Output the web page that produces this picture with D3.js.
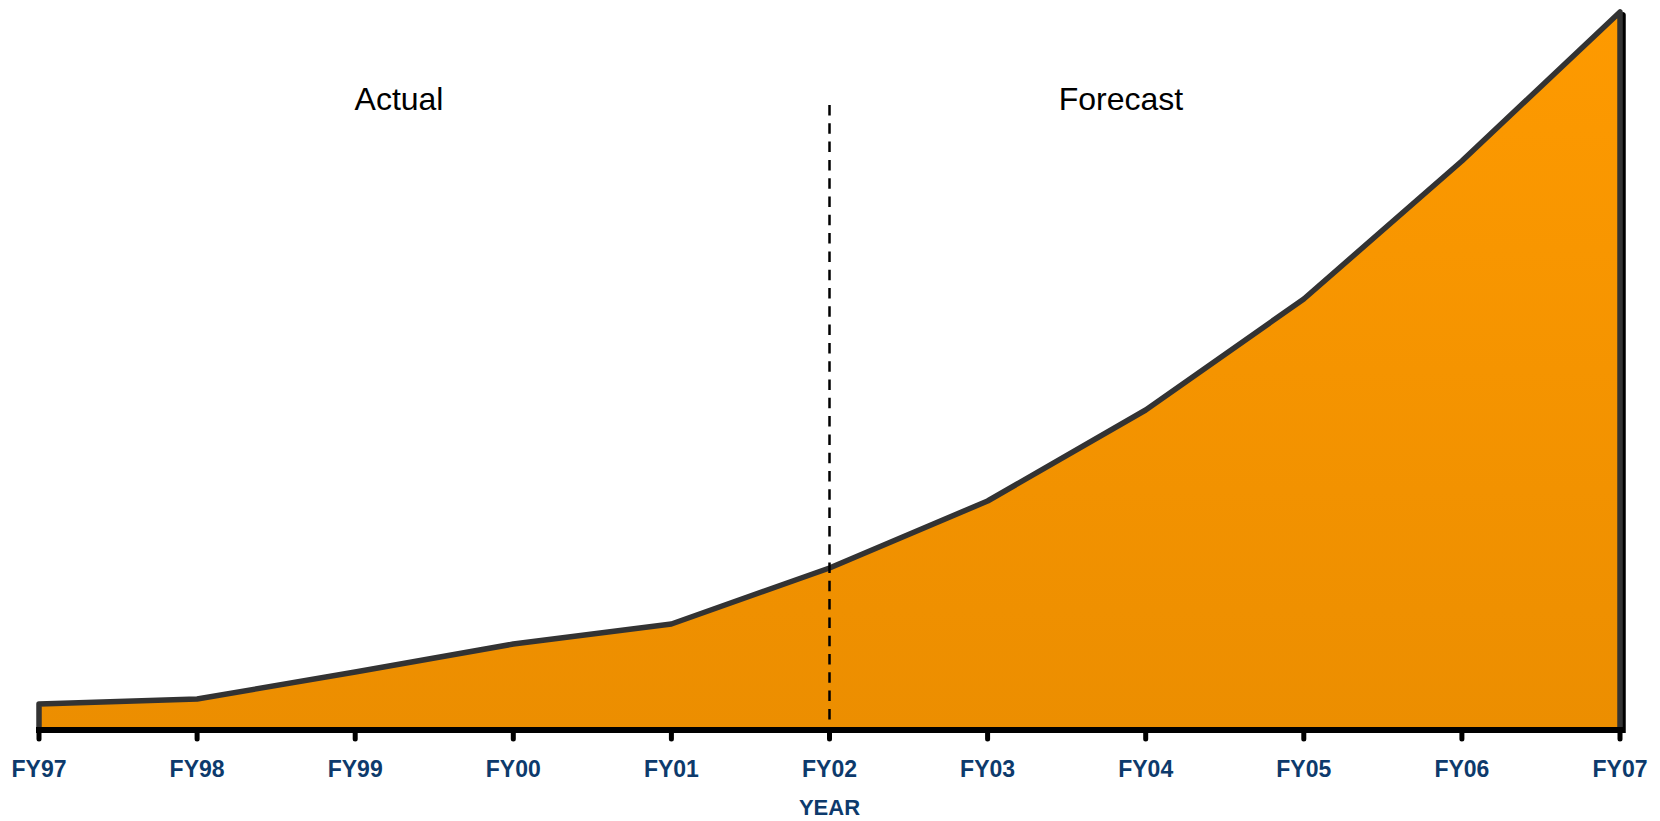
<!DOCTYPE html>
<html>
<head>
<meta charset="utf-8">
<script src="https://cdn.jsdelivr.net/npm/d3@7"></script>
<style>
  html, body { margin: 0; padding: 0; background: #ffffff; }
  svg { display: block; }
</style>
</head>
<body>
<svg id="chart" width="1660" height="821"></svg>
<script>
// Fiscal years shown on the x axis
const years = ["FY97", "FY98", "FY99", "FY00", "FY01", "FY02", "FY03", "FY04", "FY05", "FY06", "FY07"];
// Yearly values (actual through FY02, forecast afterwards)
const values = [2.6, 3.1, 5.8, 8.6, 10.6, 16.2, 22.9, 32.0, 43.1, 56.9, 71.8];
// Year where actuals end and the forecast begins
const splitYear = "FY02";
const sectionLabels = ["Actual", "Forecast"];
const axisTitle = "YEAR";

const svg = d3.select("#chart");

const x = d3.scalePoint().domain(years).range([39, 1620]);
const y = d3.scaleLinear().domain([0, 72]).range([730, 10]);

const defs = svg.append("defs");
const grad = defs.append("linearGradient")
  .attr("id", "fillGrad")
  .attr("gradientUnits", "userSpaceOnUse")
  .attr("x1", 0).attr("y1", y(72)).attr("x2", 0).attr("y2", y(0));
grad.append("stop").attr("offset", "0%").attr("stop-color", "#fe9a00");
grad.append("stop").attr("offset", "100%").attr("stop-color", "#ec8e00");

const pts = years.map((d, i) => [x(d), y(values[i])]);

const area = d3.area()
  .x((d, i) => x(years[i]))
  .y0(y(0))
  .y1(d => y(d));

// Closed outline: up the left edge, along the series, down the right edge
const outline = d3.line()([[x(years[0]), y(0)], ...pts, [x(years[years.length - 1]), y(0)]]);

// Drop shadow of the outline
svg.append("path")
  .attr("d", outline)
  .attr("transform", "translate(3,3)")
  .attr("fill", "none")
  .attr("stroke", "#000")
  .attr("stroke-width", 5.5)
  .attr("stroke-linejoin", "round");

svg.append("path")
  .attr("d", area(values))
  .attr("fill", "url(#fillGrad)");

svg.append("path")
  .attr("d", outline)
  .attr("fill", "none")
  .attr("stroke", "#333333")
  .attr("stroke-width", 5.5)
  .attr("stroke-linejoin", "round");

// Dashed divider between actual and forecast
svg.append("line")
  .attr("x1", x(splitYear)).attr("x2", x(splitYear))
  .attr("y1", 105).attr("y2", y(0))
  .attr("stroke", "#000")
  .attr("stroke-width", 2.5)
  .attr("stroke-dasharray", "10.5,7.8");

// X axis
const axisG = svg.append("g").attr("transform", `translate(0,${y(0)})`);
axisG.append("line")
  .attr("x1", x(years[0]) - 3).attr("x2", x(years[years.length - 1]) + 3)
  .attr("y1", 0).attr("y2", 0)
  .attr("stroke", "#000").attr("stroke-width", 6);
axisG.selectAll(".tick")
  .data(years)
  .join("line")
  .attr("class", "tick")
  .attr("x1", d => x(d)).attr("x2", d => x(d))
  .attr("y1", 0).attr("y2", 9)
  .attr("stroke", "#000")
  .attr("stroke-width", 5)
  .attr("stroke-linecap", "round");
axisG.selectAll(".tlabel")
  .data(years)
  .join("text")
  .attr("class", "tlabel")
  .attr("x", d => x(d))
  .attr("y", 47)
  .attr("text-anchor", "middle")
  .attr("font-family", "Liberation Sans, Arial, sans-serif")
  .attr("font-weight", "bold")
  .attr("font-size", 23)
  .attr("fill", "#0d3a6c")
  .text(d => d);

svg.append("text")
  .attr("x", x(splitYear))
  .attr("y", 815)
  .attr("text-anchor", "middle")
  .attr("font-family", "Liberation Sans, Arial, sans-serif")
  .attr("font-weight", "bold")
  .attr("font-size", 22)
  .attr("fill", "#0d3a6c")
  .text(axisTitle);

// Section headings
svg.selectAll(".section")
  .data(sectionLabels)
  .join("text")
  .attr("class", "section")
  .attr("x", (d, i) => i === 0 ? 399 : 1121)
  .attr("y", 110)
  .attr("text-anchor", "middle")
  .attr("font-family", "Liberation Sans, Arial, sans-serif")
  .attr("font-size", 32)
  .attr("fill", "#000")
  .text(d => d);
</script>
</body>
</html>
